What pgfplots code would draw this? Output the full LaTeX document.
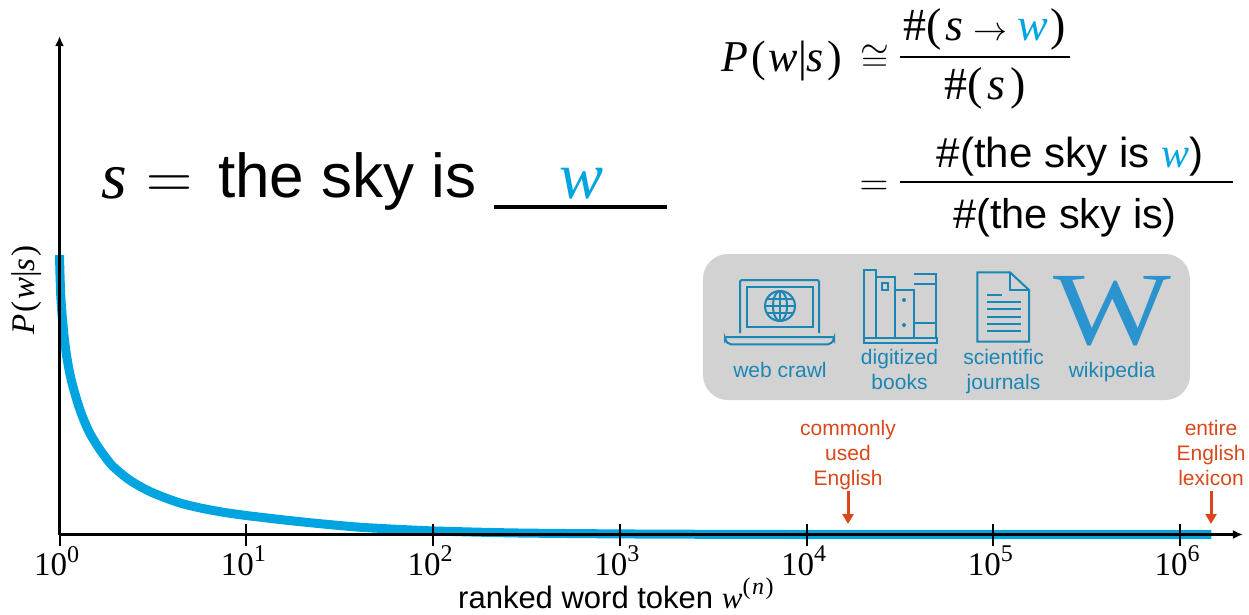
\documentclass[border=0pt]{standalone}
\usepackage{fix-cm}
\usepackage{fontspec}
\setmainfont{Liberation Sans}
\newfontfamily\serifw{Liberation Serif}
\usepackage{pgfplots}
\pgfplotsset{compat=1.18}
\usetikzlibrary{arrows.meta}
\definecolor{curveblue}{HTML}{00A4E0}
\definecolor{iconblue}{HTML}{1A86B5}
\definecolor{wikiblue}{HTML}{2B93CE}
\definecolor{panelgray}{HTML}{D2D2D2}
\definecolor{orangered}{HTML}{D9481A}
\newcommand{\fs}[1]{\fontsize{#1}{#1}\selectfont}
\newcommand{\mv}[1]{{\serifw\itshape #1}}
\newcommand{\bw}{\textcolor{curveblue}{\mv{w}}}
\newcommand{\tenp}[1]{{\serifw\fs{33}10\raisebox{0.42em}{\fs{24}#1}}}
\newcommand{\Pws}[1]{{\serifw\mv{P}\kern#1(\kern#1\mv{w}|\mv{s}\kern#1)}}
\pgfplotstableread{
x y
1 279.5
1.0186 234.5
1.074 187.8
1.156 154.5
1.288 124.5
1.429 104
1.585 89.5
1.758 77.5
1.941 67.8
2.371 54.5
2.931 44.5
3.589 37.5
4.416 31.5
5.408 27.4
6.653 24
8.128 21.3
10 19
12.3 17
15.14 15
19.95 12.6
26.9 10.2
39.8 7.4
61 5.4
79.4 4.4
100 3.6
178 2.3
316 1.4
1000 0.6
3162 0.2
10000 0
1470000 0
}\curvedata
\begin{document}
\begin{tikzpicture}
\begin{scope}[x=1pt,y=-1pt]
\path (0,0) rectangle (1249,614);
\fill[panelgray,rounded corners=25pt] (703,254) rectangle (1190,400);
\end{scope}
\begin{axis}[
  at={(59.5pt,-534.5pt)}, anchor=origin,
  scale only axis, width=1183.5pt, height=498.5pt,
  xmode=log, xmin=1, xmax=2169000, ymin=0, ymax=498.5,
  axis x line=bottom, axis y line=left, clip=false,
  axis line style={line width=2.5pt,-{Latex[length=10pt,width=9pt]}},
  xtick={1,10,100,1000,10000,100000,1000000},
  xticklabels={\tenp{0},\tenp{1},\tenp{2},\tenp{3},\tenp{4},\tenp{5},\tenp{6}},
  xminorticks=false, ytick=\empty,
  tick align=center,
  major tick length=22pt,
  x tick style={line width=2pt,black},
  x tick label style={yshift=3pt,xshift=-3pt},
  set layers=standard,
]
\addplot[curveblue,line width=9pt,smooth,tension=0.5,line join=round,on layer=axis background] table[x=x,y=y] {\curvedata};
\end{axis}
\begin{scope}[x=1pt,y=-1pt]
% axis labels
\node[anchor=base west,inner sep=0] at (458,608) {\fs{31}ranked word token \mv{w}\raisebox{0.42em}{\fs{24}\serifw(\kern1.5pt\mv{n}\kern1.5pt)}};
\node[anchor=center,inner sep=0,rotate=90] at (27,290) {\fs{33}\Pws{2pt}};
% left title
\node[anchor=base west,inner sep=0] at (101,198) {\fs{66}\mv{s}};
\node[anchor=base west,inner sep=0] at (146,198) {\fs{64}$=$};
\node[anchor=base west,inner sep=0] at (218,197) {\fs{62}the sky is};
\draw[line width=4pt] (494,206.5) -- (667,206.5);
\node[anchor=base,inner sep=0] at (582,198) {\fs{66}\bw};
% formulas
\node[anchor=base west,inner sep=0] at (721,71) {\fs{44}\Pws{3pt}};
\node[anchor=base west,inner sep=0] at (860,71) {\fs{37}$\cong$};
\draw[line width=2pt] (900,57) -- (1070,57);
\node[anchor=base,inner sep=0] at (985,40) {\fs{46}\serifw\#(\kern3pt\mv{s}\kern10pt{\fs{34}$\to$}\kern10pt\bw\kern3pt)};
\node[anchor=base,inner sep=0] at (985,99) {\fs{46}\serifw\#(\kern5pt\mv{s}\kern5pt)};
\node[anchor=base,inner sep=0] at (874,195) {\fs{40}$=$};
\draw[line width=2pt] (900,182) -- (1233,182);
\node[anchor=base,inner sep=0] at (1070,167) {\fs{42}\#(the sky is \bw)};
\node[anchor=base,inner sep=0] at (1065,228) {\fs{41.5}\#(the sky is)};
% icons
\begin{scope}[iconblue,line width=2pt]
\draw[rounded corners=2pt] (740,333) -- (740,280) -- (819,280) -- (819,333);
\draw (746.7,286.7) rectangle (813,327);
\draw[rounded corners=2pt] (725,337) -- (834,337) -- (834,340) -- (830,344.3) -- (729,344.3) -- (725,340) -- cycle;
\draw (780,306) circle (15);
\draw (780,306) ellipse (7 and 15);
\draw (765,306) -- (795,306);
\draw (780,291) -- (780,321);
\draw (767,299) -- (793,299);
\draw (767,313) -- (793,313);
\draw (863.5,337.7) rectangle (936.7,342.7);
\draw (864,337.7) -- (864,270) -- (876,270) -- (876,337.7);
\draw (876,277) -- (895,277) -- (895,337.7);
\draw (881.7,282.7) rectangle (888.3,290);
\draw (895,290) -- (914,290) -- (914,337.7);
\draw (914,274) -- (936,274) -- (936,337.7);
\draw (914,284.3) -- (936,284.3);
\draw (914,323.3) -- (936,323.3);
\fill (904,300) circle (2);
\fill (904,325) circle (2);
\draw (977.3,272.3) -- (1010,272.3) -- (1029,290) -- (1029,341.7) -- (977.3,341.7) -- cycle;
\draw (1010,272.3) -- (1010,290) -- (1029,290);
\draw (986.7,295) -- (1001.7,295);
\foreach \yy in {302.3,309.3,316.7,324,330.7} \draw (986.7,\yy) -- (1020.7,\yy);
\end{scope}
\node[anchor=base,inner sep=0,text=wikiblue,xscale=1.2] at (1112.5,344) {\serifw\fs{104}W};
\begin{scope}[every node/.style={text=iconblue,inner sep=0,anchor=base}]
\node at (780,377) {\fs{21}web crawl};
\node at (899.5,364) {\fs{21}digitized};
\node at (899.5,389) {\fs{21}books};
\node at (1003.5,364) {\fs{21}scientific};
\node at (1003.5,389) {\fs{21}journals};
\node at (1112,377) {\fs{21}wikipedia};
\end{scope}
\begin{scope}[every node/.style={text=orangered,inner sep=0,anchor=base}]
\node at (848,435) {\fs{21}commonly};
\node at (848,460) {\fs{21}used};
\node at (848,485) {\fs{21}English};
\node at (1211,435) {\fs{21}entire};
\node at (1211,460) {\fs{21}English};
\node at (1211,485) {\fs{21}lexicon};
\end{scope}
\draw[orangered,line width=3pt,-{Triangle[length=10pt,width=11pt]}] (848,491) -- (848,524);
\draw[orangered,line width=3pt,-{Triangle[length=10pt,width=11pt]}] (1211,491) -- (1211,524);
\end{scope}
\end{tikzpicture}
\end{document}
